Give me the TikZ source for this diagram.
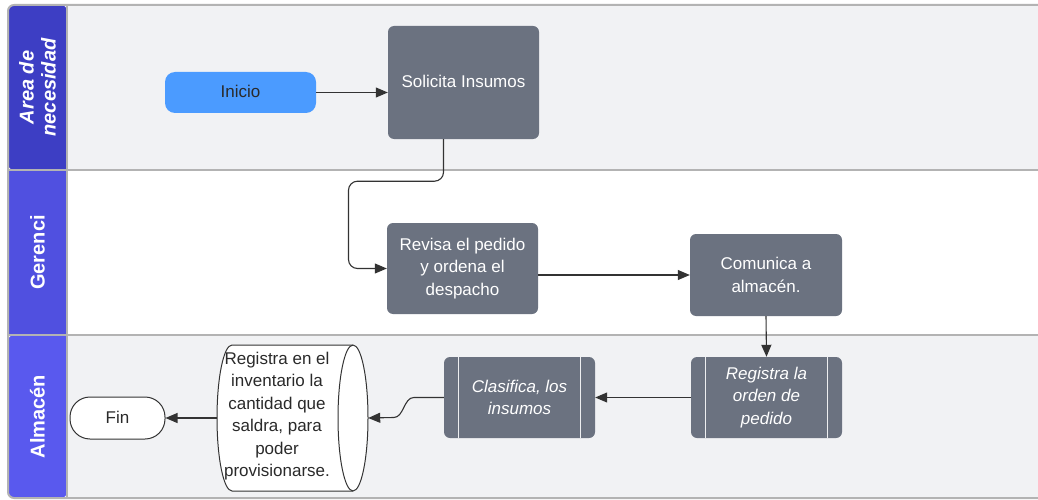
\documentclass[tikz,border=0pt]{standalone}
\usepackage{fontspec}
\setmainfont{Liberation Sans}
\usetikzlibrary{arrows.meta,calc}
\definecolor{laneBg}{HTML}{F1F2F4}
\definecolor{frameGray}{HTML}{B3B3B3}
\definecolor{hdrA}{HTML}{3D3EC4}
\definecolor{hdrB}{HTML}{5050E0}
\definecolor{hdrC}{HTML}{5959EE}
\definecolor{boxGray}{HTML}{6B7280}
\definecolor{startBlue}{HTML}{4B9BFF}
\definecolor{lineDark}{HTML}{333333}
\definecolor{txtDark}{HTML}{2A2A2A}
\begin{document}
\begin{tikzpicture}[x=1pt,y=-1pt,
  basefont/.style={font=\fontsize{17}{22.5}\selectfont},
  procbox/.style={basefont,fill=boxGray,draw=none,rounded corners=6,text=white,align=center,inner sep=0pt},
  prebox/.style={procbox,font=\fontsize{17}{22.5}\selectfont\itshape},
  startbox/.style={basefont,fill=startBlue,draw=none,rounded corners=10,text=txtDark,align=center,inner sep=0pt},
  endbox/.style={basefont,fill=white,draw=lineDark,line width=1pt,rounded corners=20,text=txtDark,align=center,inner sep=0pt},
  hdrtext/.style={text=white,rotate=90,align=center,font=\fontsize{20}{22}\selectfont\bfseries},
  flow/.style={draw=lineDark,line width=1.1pt,-{Triangle[length=12pt,width=10pt]}},
  prelines/.style={draw=white!88!boxGray,line width=1pt},
  cylstyle/.style={draw=lineDark,line width=1pt,fill=white}
]
\useasboundingbox (0,0) rectangle (1038,500);
% lanes
\fill[laneBg] (67,5) rectangle (1040,170);
\fill[white] (67,170) rectangle (1040,335);
\fill[laneBg] (67,335) rectangle (1040,498);
\fill[hdrA, rounded corners=6] (8,5) -- (8,170) -- (67,170) -- (67,5) -- cycle;
\fill[hdrA] (30,100) rectangle (67,170);
\fill[hdrB] (8,170) rectangle (67,335);
\fill[hdrC, rounded corners=6] (8,335) -- (8,498) -- (67,498) -- (67,335) -- cycle;
\fill[hdrC] (30,335) rectangle (67,400);
\draw[frameGray, line width=2pt, rounded corners=6] (1040,5) -- (8,5) -- (8,498) -- (1040,498);
\draw[frameGray, line width=2pt] (67,5) -- (67,498);
\draw[frameGray, line width=2pt] (8,170) -- (1040,170);
\draw[frameGray, line width=2pt] (8,335) -- (1040,335);
% headers
\node[hdrtext, font=\fontsize{20}{22}\selectfont\bfseries\itshape] (h1) at (37.5,87.5) {Area de\\necesidad};
\node[hdrtext] (h2) at (37.5,252.5) {Gerenci};
\node[hdrtext] (h3) at (37.5,416.5) {Almacén};
% nodes
\node[startbox, minimum width=151, minimum height=41] (ini) at (240.5,92.5) {\raisebox{1.5pt}{Inicio}};
\node[procbox, minimum width=151, minimum height=113] (sol) at (463.5,82.5) {\raisebox{2pt}{Solicita Insumos}};
\node[procbox, minimum width=151, minimum height=91] (rev) at (462.5,268.5) {Revisa el pedido\\y ordena el\\despacho};
\node[procbox, minimum width=152, minimum height=82] (com) at (766,275) {Comunica a\\almacén.};
\node[prebox, minimum width=151, minimum height=81] (reg) at (766.5,397.5) {Registra la\\orden de\\pedido};
\node[prebox, minimum width=151, minimum height=81] (clas) at (519.5,397.5) {Clasifica, los\\insumos};
\draw[prelines] ([xshift=15]reg.north west) -- ([xshift=15]reg.south west);
\draw[prelines] ([xshift=-15]reg.north east) -- ([xshift=-15]reg.south east);
\draw[prelines] ([xshift=15]clas.north west) -- ([xshift=15]clas.south west);
\draw[prelines] ([xshift=-15]clas.north east) -- ([xshift=-15]clas.south east);
% cylinder
\draw[cylstyle] (232,345) .. controls (223.72,345) and (217,377.7) .. (217,418) .. controls (217,458.3) and (223.72,491) .. (232,491) -- (353,491) .. controls (361.28,491) and (368,458.3) .. (368,418) .. controls (368,377.7) and (361.28,345) .. (353,345) -- cycle;
\draw[cylstyle,fill=none] (353,345) .. controls (344.72,345) and (338,377.7) .. (338,418) .. controls (338,458.3) and (344.72,491) .. (353,491);
\node[minimum width=151, minimum height=146, inner sep=0pt] (cyl) at (292.5,418) {};
\node[basefont, text=txtDark, align=center, inner sep=0pt] (cyltxt) at (277,416) {Registra en el\\inventario la\\cantidad que\\saldra, para\\poder\\provisionarse.};
\node[endbox, minimum width=95, minimum height=42] (fin) at (117.5,418) {\raisebox{1.5pt}{Fin}};
% connectors
\draw[flow] (ini.east) -- (ini.east -| sol.west);
\draw[flow, rounded corners=9] ([xshift=-20]sol.south) -- ++(0,42) -- ++(-95,0) |- (rev.west);
\draw[flow] (rev.east |- com.west) -- (com.west);
\draw[flow] (com.south) -- (reg.north);
\draw[flow] (reg.west) -- (clas.east);
\draw[flow] (clas.west) -- ++(-30,0) .. controls +(-10,0) and +(10,0) .. ++(-20,20) -- (cyl.east);
\draw[flow] (cyl.west) -- (fin.east);
\end{tikzpicture}
\end{document}
